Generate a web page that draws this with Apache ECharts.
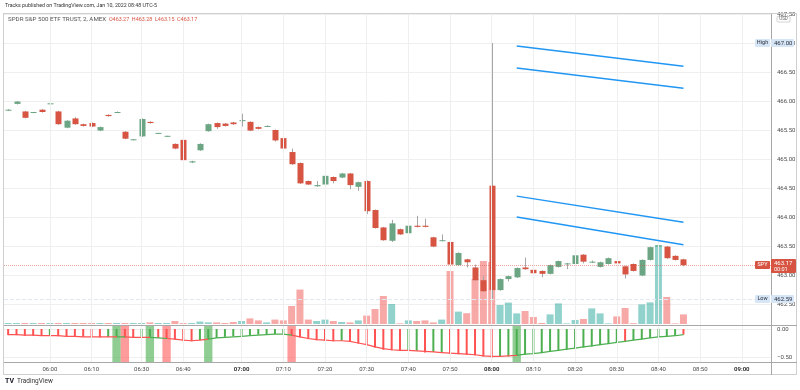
<!DOCTYPE html>
<html>
<head>
<meta charset="utf-8">
<script src="https://cdn.jsdelivr.net/npm/echarts@6.0.0/dist/echarts.min.js"></script>
<style>
html,body{margin:0;padding:0;background:#ffffff;}
#chart{width:800px;height:390px;}
</style>
</head>
<body>
<div id="chart"></div>
<script>
// ---------------- DATA ----------------
const times = ['05:50','05:52','05:54','05:56','05:58',
'06:00','06:02','06:04','06:06','06:08',
'06:10','06:12','06:14','06:16','06:22','06:26',
'06:30','06:32','06:34','06:36','06:38',
'06:40','06:42','06:44','06:46','06:48','06:54','06:58',
'07:00','07:02','07:04','07:06','07:08','07:10','07:12','07:14','07:16','07:18',
'07:20','07:22','07:24','07:26','07:28','07:30','07:32','07:34','07:36','07:38',
'07:40','07:42','07:44','07:46','07:48','07:50','07:52','07:54','07:56','07:58',
'08:00','08:02','08:04','08:06','08:08','08:10','08:12','08:14','08:16','08:18',
'08:20','08:22','08:24','08:26','08:28','08:30','08:32','08:34','08:36','08:38',
'08:40','08:42','08:44','08:46',
'08:48','08:50','08:52','08:54','08:56','08:58','09:00','09:02','09:04','09:06'];

const timeLabels = ['06:00','06:10','06:30','06:40','07:00','07:10','07:20','07:30','07:40','07:50',
'08:00','08:10','08:20','08:30','08:40','08:50','09:00'];
const boldLabels = ['07:00','08:00','09:00'];

// [open, close, low, high]
const ohlc = [
[465.84,465.85,465.83,465.86],[465.95,465.99,465.94,466.00],[465.82,465.71,465.70,465.83],[465.80,465.81,465.79,465.81],
[465.85,465.81,465.80,465.86],[465.95,465.96,465.94,465.96],[465.82,465.60,465.59,465.83],[465.54,465.66,465.53,465.67],
[465.70,465.60,465.59,465.72],[465.60,465.57,465.56,465.61],[465.62,465.56,465.55,465.63],[465.49,465.55,465.48,465.56],
[465.76,465.74,465.73,465.77],[465.80,465.81,465.79,465.82],[465.47,465.35,465.34,465.48],[465.33,465.34,465.32,465.34],
[465.39,465.69,465.38,465.70],[465.64,465.62,465.61,465.65],[465.44,465.45,465.43,465.45],[465.39,465.40,465.38,465.40],
[465.26,465.18,465.17,465.27],[465.33,464.98,464.97,465.34],[464.94,464.96,464.93,464.97],[465.15,465.26,465.14,465.27],
[465.48,465.60,465.47,465.61],[465.62,465.55,465.52,465.63],[465.61,465.57,465.56,465.62],[465.63,465.60,465.59,465.64],
[465.66,465.67,465.56,465.78],[465.64,465.49,465.48,465.65],[465.55,465.52,465.51,465.56],[465.56,465.57,465.55,465.58],
[465.50,465.32,465.30,465.51],[465.36,465.18,465.17,465.41],[465.12,464.91,464.90,465.18],[464.93,464.58,464.57,464.94],
[464.62,464.56,464.55,464.63],[464.53,464.55,464.52,464.62],[464.56,464.71,464.55,464.75],[464.69,464.62,464.58,464.70],
[464.68,464.75,464.67,464.76],[464.75,464.55,464.48,464.76],[464.52,464.60,464.45,464.61],[464.62,464.10,464.05,464.63],
[464.12,463.81,463.80,464.13],[463.82,463.60,463.59,463.83],[463.59,463.89,463.57,463.95],[463.79,463.70,463.69,463.80],
[463.72,463.85,463.62,463.86],[463.85,463.83,463.82,464.02],[463.85,463.83,463.82,463.97],[463.65,463.49,463.48,463.66],
[463.59,463.60,463.58,463.70],[463.57,463.18,463.17,463.58],[463.17,463.38,463.16,463.39],[463.27,463.22,463.13,463.28],
[463.13,462.91,462.90,463.18],[462.91,462.72,462.71,462.98],[464.54,462.74,462.59,467.00],[462.74,462.93,462.73,462.94],
[462.93,462.98,462.89,462.99],[462.96,463.12,462.95,463.13],[463.13,463.10,463.09,463.30],[463.09,463.03,463.02,463.22],
[463.07,463.02,462.96,463.08],[463.02,463.17,463.01,463.18],[463.14,463.24,463.13,463.25],[463.19,463.20,463.10,463.21],
[463.19,463.34,463.18,463.42],[463.35,463.23,463.20,463.36],[463.22,463.23,463.21,463.25],[463.14,463.22,463.13,463.23],
[463.19,463.29,463.18,463.30],[463.24,463.20,463.19,463.37],[463.15,463.01,462.94,463.16],[463.19,463.07,463.06,463.20],
[462.99,463.26,462.98,463.27],[463.26,463.48,463.25,463.49],[463.49,463.51,463.40,463.55],[463.49,463.29,463.28,463.50],
[463.33,463.26,463.25,463.34],[463.27,463.17,463.15,463.28]
];

// volume, thousands of shares
const volumes = [5,5,5,5,5,5,5,5,5,5,
5,5,5,5,5,5,5,8,5,5,
15,5,5,12,8,8,5,10,15,28,
18,8,22,18,90,172,22,15,22,15,
10,8,18,42,75,140,100,3,18,15,
18,8,22,265,62,54,225,315,310,95,
107,53,65,35,5,48,103,3,20,25,
78,53,3,38,80,4,98,108,395,135,
3,48];

// oscillator histogram & signal line
const oscHist = [-0.11,-0.11,-0.12,-0.12,-0.12,-0.11,-0.13,-0.13,-0.14,-0.14,
-0.14,-0.15,-0.14,-0.14,-0.15,-0.15,-0.14,-0.14,-0.16,-0.17,
-0.19,-0.21,-0.22,-0.20,-0.18,-0.16,-0.14,-0.13,-0.12,-0.11,
-0.10,-0.09,-0.09,-0.08,-0.12,-0.15,-0.18,-0.20,-0.21,-0.22,
-0.21,-0.23,-0.26,-0.29,-0.33,-0.37,-0.38,-0.39,-0.38,-0.39,
-0.42,-0.41,-0.41,-0.44,-0.45,-0.46,-0.47,-0.49,-0.51,-0.50,
-0.49,-0.48,-0.46,-0.44,-0.43,-0.41,-0.39,-0.37,-0.35,-0.33,
-0.31,-0.29,-0.26,-0.24,-0.22,-0.20,-0.18,-0.16,-0.14,-0.13,
-0.12,-0.10];
const oscRising = [0,0,0,0,0,1,0,0,0,0,
0,0,1,1,0,0,1,1,0,0,
0,0,0,1,1,1,1,1,1,1,
1,1,1,1,0,0,0,0,0,0,
1,0,0,0,0,0,0,0,1,1,
0,1,1,0,0,0,0,0,0,1,
1,1,1,1,1,1,1,1,1,1,
1,1,1,1,0,1,1,1,1,1,
1,0];
const oscSignal = [-0.10,-0.10,-0.11,-0.11,-0.12,-0.12,-0.12,-0.13,-0.13,-0.14,
-0.14,-0.14,-0.14,-0.14,-0.14,-0.15,-0.15,-0.15,-0.16,-0.17,
-0.18,-0.20,-0.21,-0.20,-0.18,-0.16,-0.15,-0.14,-0.13,-0.12,
-0.11,-0.10,-0.09,-0.09,-0.11,-0.14,-0.17,-0.19,-0.20,-0.21,
-0.21,-0.22,-0.25,-0.28,-0.32,-0.35,-0.37,-0.38,-0.38,-0.39,
-0.40,-0.41,-0.42,-0.43,-0.44,-0.45,-0.46,-0.48,-0.49,-0.49,
-0.48,-0.47,-0.45,-0.44,-0.42,-0.40,-0.38,-0.36,-0.34,-0.32,
-0.30,-0.28,-0.26,-0.24,-0.22,-0.20,-0.18,-0.16,-0.14,-0.13,
-0.12,-0.10];
// signal flips: [bar index, 1 = bullish / 0 = bearish]
const signalBands = [[13,1],[14,0],[17,1],[19,0],[24,1],[34,0],[61,1]];

// drawn trend lines: [startBar, startPrice, endBar, endPrice]
const trendLines = [[61,466.95,81,466.60],[61,466.57,81,466.22],[61,464.36,81,463.91],[61,464.00,81,463.52]];

const lastPrice = 463.17;
const rangeHigh = 467.00;
const rangeLow = 462.59;
const header = {symbol:'SPDR S&P 500 ETF TRUST, 2, AMEX', o:'463.27', h:'463.28', l:'463.15', c:'463.17'};

// ---------------- STYLE ----------------
const FONT = 'Roboto, "Liberation Sans", Arial, sans-serif';
const UP = '#6ba583', DOWN = '#d75442', WICK = '#a6a6a8';
const VOL_UP = 'rgba(38,166,154,0.5)', VOL_DOWN = 'rgba(239,83,80,0.5)';
const H_UP = '#4caf50', H_DOWN = '#ff5252';
const GRIDC = '#efefef';
const AXIS_TXT = '#4a4a4a';
const PRICE_MIN = 462.138, PRICE_MAX = 467.5;
const OSC_MIN = -0.589, OSC_MAX = 0.0714;

const chart = echarts.init(document.getElementById('chart'), null, {renderer:'canvas', width:800, height:390});
const N = times.length;
const labelSet = new Set(timeLabels);
const blank = times.map(() => '-');

function catAxis(gi, extra) {
  return Object.assign({
    type:'category', gridIndex:gi, data:times, boundaryGap:true,
    axisLine:{show:false}, axisTick:{show:false}, axisLabel:{show:false}, splitLine:{show:false}
  }, extra || {});
}

function renderCandle(params, api) {
  const i = api.value(0);
  const o = api.value(1), c = api.value(2), l = api.value(3), h = api.value(4);
  const pO = api.coord([i, o]), pC = api.coord([i, c]);
  const pL = api.coord([i, l]), pH = api.coord([i, h]);
  const x = Math.round(pO[0]);
  const up = c >= o;
  const bw = 6;
  const top = Math.min(pO[1], pC[1]);
  const bh = Math.max(1, Math.abs(pO[1] - pC[1]));
  return {type:'group', children:[
    {type:'line', shape:{x1:x + 0.5, y1:pH[1], x2:x + 0.5, y2:pL[1]}, style:{stroke:WICK, lineWidth:1}},
    {type:'rect', shape:{x:x - 2.5, y:top, width:bw, height:bh}, style:{fill: up ? UP : DOWN}}
  ]};
}

// line colour pieces from signal flips
const pieces = [];
(function(){
  let state = 0, start = 0;
  signalBands.forEach(([idx, dir]) => {
    if (idx > start) pieces.push({gte:start, lt:idx, color: state ? H_UP : H_DOWN});
    start = idx; state = dir;
  });
  pieces.push({gte:start, lte:N, color: state ? H_UP : H_DOWN});
})();

const bandData = times.map(() => '-');
signalBands.forEach(([idx, dir]) => {
  bandData[idx] = {value:1, itemStyle:{color: dir ? 'rgba(76,175,80,0.62)' : 'rgba(255,82,82,0.58)'}};
});

const vLines = timeLabels.map(t => ({xAxis:t}));

const option = {
  animation:false,
  backgroundColor:'#ffffff',
  textStyle:{fontFamily:FONT},
  grid:[
    {left:4, right:29, top:14, height:311},
    {left:4, right:29, top:244, height:80},
    {left:4, right:29, top:325, height:37},
    {left:4, right:29, top:325, height:37}
  ],
  xAxis:[
    catAxis(0),
    catAxis(1),
    catAxis(2, {axisLabel:{
      show:true, fontSize:6, color:AXIS_TXT, margin:4, fontFamily:FONT,
      interval:(idx) => labelSet.has(times[idx]),
      formatter:(v) => boldLabels.includes(v) ? '{b|' + v + '}' : v,
      rich:{b:{fontSize:6, fontWeight:'bold', color:'#333', fontFamily:FONT}}
    }}),
    catAxis(3)
  ],
  yAxis:[
    {type:'value', gridIndex:0, position:'right', min:PRICE_MIN, max:PRICE_MAX, minInterval:0.5, maxInterval:0.5,
     axisLine:{show:false}, axisTick:{show:false},
     splitLine:{show:true, lineStyle:{color:GRIDC, width:1}},
     axisLabel:{showMinLabel:false, showMaxLabel:true, fontSize:6, color:AXIS_TXT, margin:6, fontFamily:FONT,
       formatter:(v) => v.toFixed(2)}},
    {type:'value', gridIndex:1, min:0, max:400, show:false},
    {type:'value', gridIndex:2, position:'right', min:OSC_MIN, max:OSC_MAX, minInterval:0.5, maxInterval:0.5,
     axisLine:{show:false}, axisTick:{show:false},
     splitLine:{show:true, lineStyle:{color:GRIDC, width:1}},
     axisLabel:{showMinLabel:false, showMaxLabel:false, fontSize:6, color:AXIS_TXT, margin:6, fontFamily:FONT,
       formatter:(v) => v.toFixed(2).replace('-', '\u2212')}},
    {type:'value', gridIndex:3, min:0, max:1, show:false}
  ],
  visualMap:[
    {type:'piecewise', show:false, seriesIndex:7, dimension:0, pieces:pieces}
  ],
  series:[
    // 0: vertical grid lines, price pane
    {type:'line', xAxisIndex:0, yAxisIndex:0, data:blank, z:0, silent:true, symbol:'none',
     markLine:{silent:true, symbol:'none', label:{show:false}, animation:false,
       lineStyle:{color:GRIDC, type:'solid', width:1},
       data: vLines.concat([{yAxis:rangeLow, lineStyle:{color:'#dfe8f3', type:'dashed', width:1}}])}},
    // 1: candles
    {type:'custom', name:'SPY', xAxisIndex:0, yAxisIndex:0, z:4,
     renderItem:renderCandle, encode:{x:0, y:[1,2,3,4]},
     data: ohlc.map((r, i) => [i, r[0], r[1], r[2], r[3]])},
    // 2: volume
    {type:'bar', name:'Volume', xAxisIndex:1, yAxisIndex:1, z:2, barWidth:7, silent:true,
     data: volumes.map((v, i) => ({value:v, itemStyle:{color: ohlc[i][1] >= ohlc[i][0] ? VOL_UP : VOL_DOWN}}))},
    // 3: drawings (trend lines, last price line)
    {type:'line', xAxisIndex:0, yAxisIndex:0, data:blank, z:6, silent:true, symbol:'none',
     markLine:{silent:true, symbol:'none', label:{show:false}, animation:false,
       data: trendLines.map(t => [
         {coord:[times[t[0]], t[1]], lineStyle:{color:'#2196f3', width:1.5, type:'solid'}},
         {coord:[times[t[2]], t[3]]}
       ]).concat([{yAxis:lastPrice, lineStyle:{color:DOWN, type:'dotted', width:1, opacity:0.5}}])}},
    // 4: vertical grid lines, oscillator pane
    {type:'line', xAxisIndex:2, yAxisIndex:2, data:blank, z:0, silent:true, symbol:'none',
     markLine:{silent:true, symbol:'none', label:{show:false}, animation:false,
       lineStyle:{color:GRIDC, type:'solid', width:1}, data:vLines}},
    // 5: signal bands
    {type:'bar', xAxisIndex:3, yAxisIndex:3, data:bandData, barWidth:'100%', z:1, silent:true},
    // 6: histogram
    {type:'bar', xAxisIndex:2, yAxisIndex:2, z:3, barWidth:2, silent:true,
     data: oscHist.map((v, i) => ({value:v, itemStyle:{color: oscRising[i] ? H_UP : H_DOWN}}))},
    // 7: signal line
    {type:'line', xAxisIndex:2, yAxisIndex:2, z:4, data:oscSignal, symbol:'none', silent:true,
     lineStyle:{width:1.2}}
  ]
};
chart.setOption(option);

// ---------- overlay texts, frame, price tags ----------
function txt(x, y, text, size, fill, extra) {
  return Object.assign({type:'text', x:x, y:y, z:100,
    style:{text:text, fontSize:size, fontFamily:FONT, fill:fill, verticalAlign:'middle', align:'left'}}, extra || {});
}
function hline(x1, x2, y, color) {
  return {type:'line', z:90, shape:{x1:x1, y1:y, x2:x2, y2:y}, style:{stroke:color, lineWidth:1}};
}
function vline(x, y1, y2, color) {
  return {type:'line', z:90, shape:{x1:x, y1:y1, x2:x, y2:y2}, style:{stroke:color, lineWidth:1}};
}
function priceTag(label, value, bg, fg, sub) {
  const y = Math.round(chart.convertToPixel({yAxisIndex:0}, value));
  const out = [
    {type:'rect', z:100, shape:{x:755, y:y - 4, width:15, height:8, r:1}, style:{fill:bg}},
    {type:'text', z:101, x:762.5, y:y, style:{text:label, fontSize:5.5, fontFamily:FONT, fill:fg, align:'center', verticalAlign:'middle'}}
  ];
  if (sub) {
    out.push({type:'rect', z:100, shape:{x:771, y:y - 6, width:25, height:14, r:1}, style:{fill:bg}});
    out.push({type:'text', z:101, x:774, y:y - 2, style:{text:value.toFixed(2), fontSize:6, fontFamily:FONT, fill:fg, verticalAlign:'middle'}});
    out.push({type:'text', z:101, x:774, y:y + 4.5, style:{text:sub, fontSize:5.5, fontFamily:FONT, fill:fg, verticalAlign:'middle'}});
  } else {
    out.push({type:'rect', z:100, shape:{x:771, y:y - 4, width:23, height:8, r:1}, style:{fill:bg}});
    out.push({type:'text', z:101, x:774, y:y, style:{text:value.toFixed(2), fontSize:6, fontFamily:FONT, fill:'#2a2e39', verticalAlign:'middle'}});
  }
  return out;
}

const FRAME = '#cfcfcf', SEP = '#a8a8a8';
const graphics = [
  txt(5, 6, 'Tracks published on TradingView.com, Jan 10, 2022 08:48 UTC-5', 5.3, '#333'),
  hline(3, 797, 13.5, FRAME),
  vline(3.5, 13.5, 375, FRAME),
  vline(796.5, 13.5, 375, FRAME),
  hline(3, 797, 374.5, FRAME),
  hline(4, 797, 325.5, SEP),
  hline(4, 797, 362.5, SEP),
  vline(771.5, 14, 375, SEP),
  {type:'text', x:8, y:19.5, z:100, style:{
    text:'{n|' + header.symbol + '}  {v|O' + header.o + '  H' + header.h + '  L' + header.l + '  C' + header.c + '}',
    verticalAlign:'middle', fontFamily:FONT, fontSize:5.5,
    rich:{
      n:{fontSize:6.2, fill:'#555', fontFamily:FONT},
      v:{fontSize:5.4, fill:DOWN, fontFamily:FONT}
    }}},
  {type:'rect', z:100, shape:{x:777, y:16.5, width:13, height:5.5, r:1}, style:{fill:'#fff', stroke:'#b5b5b5', lineWidth:0.6}},
  {type:'text', z:101, x:783.5, y:19.3, style:{text:'USD', fontSize:4.5, fontFamily:FONT, fill:'#666', align:'center', verticalAlign:'middle'}},
  txt(5, 381.5, 'TV', 7, '#131722', {style:{text:'TV', fontSize:7, fontWeight:'bold', fontFamily:FONT, fill:'#131722', verticalAlign:'middle'}}),
  txt(17, 381.5, 'TradingView', 6.5, '#333')
].concat(
  priceTag('High', rangeHigh, '#d6e6f7', '#2a2e39'),
  priceTag('Low', rangeLow, '#d6e6f7', '#2a2e39'),
  priceTag('SPY', lastPrice, DOWN, '#ffffff', '00:01')
);
chart.setOption({graphic: graphics});
</script>
</body>
</html>
